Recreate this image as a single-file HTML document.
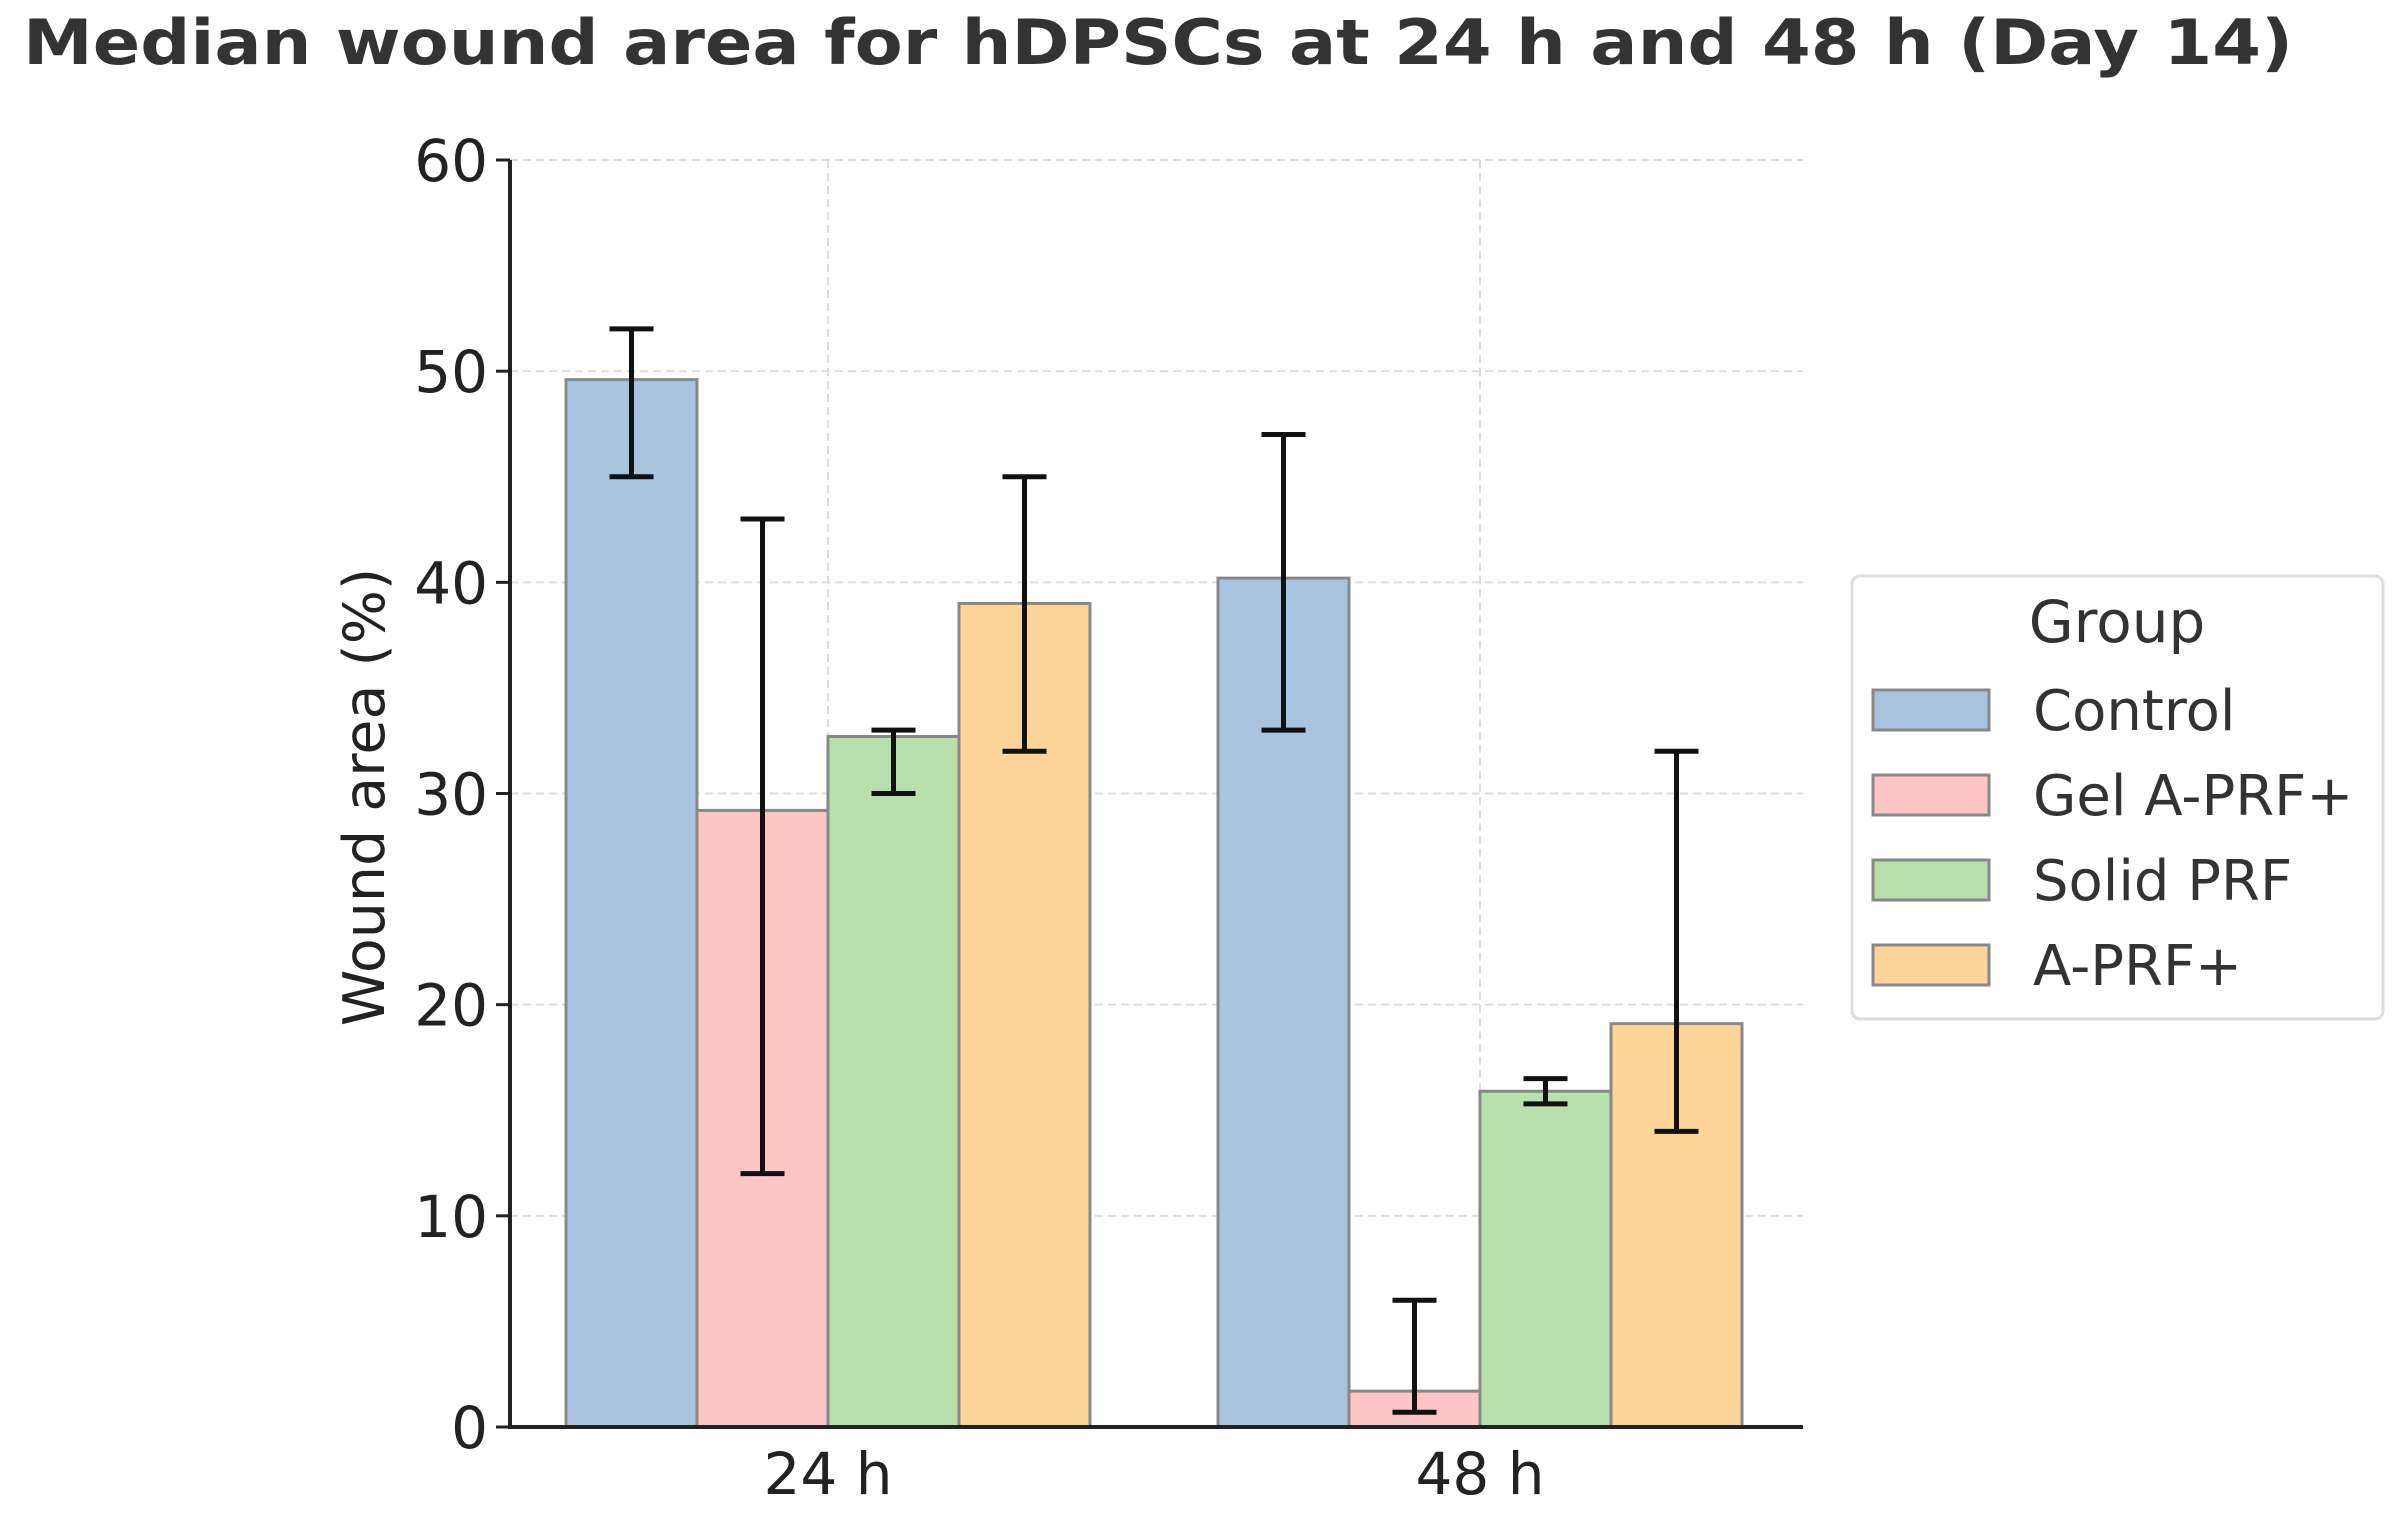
<!DOCTYPE html>
<html><head><meta charset="utf-8"><style>
body{margin:0;background:#fff;}
svg{display:block;font-family:"DejaVu Sans","Liberation Sans",sans-serif;}
</style></head><body>
<svg id="chart" width="2404" height="1513" viewBox="0 0 2404 1513" xmlns="http://www.w3.org/2000/svg">
<rect width="2404" height="1513" fill="#fff"/>
<text x="23" y="64" font-size="62" font-weight="bold" fill="#333" textLength="2270" lengthAdjust="spacingAndGlyphs">Median wound area for hDPSCs at 24 h and 48 h (Day 14)</text>
<g id="grid"></g>
<g id="bars"></g>
<g id="errs"></g>
<g id="axes"></g>
<text transform="translate(384,797) rotate(-90)" text-anchor="middle" font-size="57" fill="#222">Wound area (%)</text>
<g>
<rect x="1852" y="576" width="531" height="443" rx="8" fill="#fff" stroke="#ddd" stroke-width="3"/>
<text x="2117" y="642" text-anchor="middle" font-size="58" fill="#333">Group</text>
<g id="legend-entries"></g>
</g>
</svg>
<script>
const categories = ["24 h", "48 h"];
const groups = ["Control", "Gel A-PRF+", "Solid PRF", "A-PRF+"];
const control = [49.6, 40.2];
const gel = [29.2, 1.7];
const solid = [32.7, 15.9];
const aprf = [39.0, 19.1];
const errLow = [[45, 33], [12, 0.7], [30, 15.3], [32, 14]];
const errHigh = [[52, 47], [43, 6], [33, 16.5], [45, 32]];
const yTicks = [0, 10, 20, 30, 40, 50, 60];
const colors = ["#a9c4de", "#fec5c7", "#b8e0ac", "#fdd598"];
const series = [control, gel, solid, aprf];

const NS = "http://www.w3.org/2000/svg";
const L = 510, R = 1803, Y0 = 1427, Y60 = 160;
const y = v => Y0 - (v / 60) * (Y0 - Y60);
const x = i => 828 + i * 652;
const bw = 131;
function mk(tag, attrs, parent) {
  const e = document.createElementNS(NS, tag);
  for (const k in attrs) e.setAttribute(k, attrs[k]);
  parent.appendChild(e);
  return e;
}
const grid = document.getElementById("grid");
const axes = document.getElementById("axes");
yTicks.forEach(t => {
  if (t > 0) {
    const g = mk("line", {x1: L, x2: R, y1: y(t), y2: y(t), stroke: "#ddd", "stroke-width": 2, "stroke-dasharray": "8,5"}, grid);
    
    
  }
  const tk = mk("line", {x1: L - 14, x2: L, y1: y(t), y2: y(t), stroke: "#222", "stroke-width": 3}, axes);
  
  
  const lb = mk("text", {x: L - 22, y: y(t) + 21, "text-anchor": "end", "font-size": 58, fill: "#222"}, axes);
  lb.textContent = t;
  
  
});
categories.forEach((c, i) => {
  const g = mk("line", {x1: x(i), x2: x(i), y1: Y60, y2: Y0, stroke: "#ddd", "stroke-width": 2, "stroke-dasharray": "8,5"}, grid);
  
  
  const lb = mk("text", {x: x(i), y: 1494, "text-anchor": "middle", "font-size": 58, fill: "#222"}, axes);
  lb.textContent = c;
  
  
});
const bars = document.getElementById("bars");
const errs = document.getElementById("errs");
series.forEach((s, k) => {
  s.forEach((v, i) => {
    const cx = x(i) + (k - 1.5) * bw;
    const b = mk("rect", {x: cx - bw / 2, y: y(v), width: bw, height: Y0 - y(v), fill: colors[k], stroke: "#888", "stroke-width": 3}, bars);
    
    
    const lo = y(errLow[k][i]), hi = y(errHigh[k][i]);
    const e = mk("path", {d: `M${cx},${lo}V${hi}M${cx - 22},${lo}H${cx + 22}M${cx - 22},${hi}H${cx + 22}`, stroke: "#111", "stroke-width": 5, fill: "none"}, errs);
    
    
  });
});
const la = mk("path", {d: `M${L},${Y60}V${Y0}H${R}`, stroke: "#222", "stroke-width": 4, fill: "none"}, axes);


const le = document.getElementById("legend-entries");
groups.forEach((g, k) => {
  const yy = 710 + k * 85;
  const p = mk("rect", {x: 1873, y: yy - 20, width: 116, height: 40, fill: colors[k], stroke: "#888", "stroke-width": 3}, le);
  
  
  const t = mk("text", {x: 2033, y: yy + 20, "font-size": 56, fill: "#333"}, le);
  t.textContent = g;
  
  
});
</script>
</body></html>
